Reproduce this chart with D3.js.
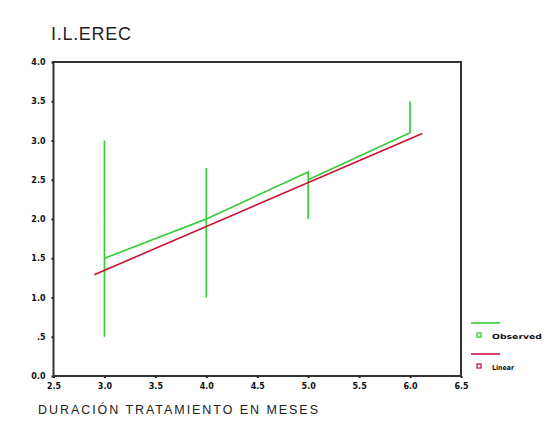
<!DOCTYPE html>
<html><head><meta charset="utf-8">
<script src="https://cdn.jsdelivr.net/npm/d3@7"></script>
<style>body{margin:0;background:#fff}svg{display:block}</style>
</head><body>
<script>
const xTicks = [2.5, 3.0, 3.5, 4.0, 4.5, 5.0, 5.5, 6.0, 6.5];
const xTickLabels = ["2.5","3.0","3.5","4.0","4.5","5.0","5.5","6.0","6.5"];
const yTicks = [0, 0.5, 1.0, 1.5, 2.0, 2.5, 3.0, 3.5, 4.0];
const yTickLabels = ["0.0",".5","1.0","1.5","2.0","2.5","3.0","3.5","4.0"];
// observed points in data order (SPSS connects them)
const obsX = [3, 3, 3, 4, 4, 4, 4, 5, 5, 5, 6, 6];
const obsY = [0.5, 3.0, 1.5, 2.0, 1.0, 2.65, 2.0, 2.6, 2.0, 2.5, 3.1, 3.5];
// linear fit line endpoints
const fitX = [2.9, 6.12];
const fitY = [1.29, 3.09];
const seriesNames = ["Observed", "Linear"];

const W = 545, H = 439;
const svg = d3.select("body").append("svg").attr("width", W).attr("height", H);
const L = 53.5, R = 461, T = 62, B = 376;
const x = d3.scaleLinear().domain([2.5, 6.5]).range([L, R]);
const y = d3.scaleLinear().domain([0, 4]).range([B, T]);

// title
svg.append("text").attr("x", 51).attr("y", 40).attr("font-family", "Liberation Sans, Arial, sans-serif")
  .attr("font-size", 18).attr("fill", "#222").attr("textLength", 80).text("I.L.EREC");

// axes
const xAxis = d3.axisBottom(x).tickValues(xTicks).tickFormat((d, i) => xTickLabels[i]).tickSize(2).tickPadding(4);
const yAxis = d3.axisLeft(y).tickValues(yTicks).tickFormat((d, i) => yTickLabels[i]).tickSize(2).tickPadding(6);
const gx = svg.append("g").attr("transform", `translate(0,${B})`).call(xAxis);
const gy = svg.append("g").attr("transform", `translate(${L},0)`).call(yAxis);
[gx, gy].forEach(g => {
  g.select(".domain").remove();
  g.selectAll(".tick line").attr("stroke", "#111").attr("stroke-width", 2);
  g.selectAll(".tick text").attr("font-family", "DejaVu Sans, sans-serif").attr("font-size", 8)
    .attr("font-weight", "bold").attr("fill", "#111");
});
gx.selectAll(".tick text").attr("dy", "0.9em");

// frame
svg.append("rect").attr("x", L).attr("y", T).attr("width", R - L).attr("height", B - T)
  .attr("fill", "none").attr("stroke", "#333").attr("stroke-width", 2);

// observed line
const obs = obsX.map((v, i) => [v, obsY[i]]);
svg.append("path").datum(obs).attr("fill", "none").attr("stroke", "#33cc33").attr("stroke-width", 1.6)
  .attr("d", d3.line().x(d => x(d[0])).y(d => y(d[1])));

// linear fit
const fit = fitX.map((v, i) => [v, fitY[i]]);
svg.append("path").datum(fit).attr("fill", "none").attr("stroke", "#cc1133").attr("stroke-width", 1.6)
  .attr("d", d3.line().x(d => x(d[0])).y(d => y(d[1])));

// legend
const legColors = ["#33cc33", "#cc1144"];
const legY = [323, 354];
seriesNames.forEach((n, i) => {
  svg.append("line").attr("x1", 471).attr("x2", 500).attr("y1", legY[i]).attr("y2", legY[i])
    .attr("stroke", legColors[i]).attr("stroke-width", 1.6);
  svg.append("rect").attr("x", 477).attr("y", legY[i] + 10).attr("width", 4).attr("height", 4)
    .attr("fill", "none").attr("stroke", legColors[i]).attr("stroke-width", 1.3);
  svg.append("text").attr("x", 492).attr("y", legY[i] + 16).attr("font-family", "DejaVu Sans, sans-serif")
    .attr("font-size", 7).attr("font-weight", "bold").attr("fill", "#111")
    .attr("textLength", i === 0 ? 50 : 22).attr("lengthAdjust", "spacingAndGlyphs").text(n);
});

// x axis title
svg.append("text").attr("x", 38).attr("y", 414).attr("font-family", "Liberation Sans, Arial, sans-serif")
  .attr("font-size", 12.5).attr("fill", "#222").attr("textLength", 280).attr("lengthAdjust", "spacing")
  .text("DURACIÓN TRATAMIENTO EN MESES");
</script>
</body></html>
